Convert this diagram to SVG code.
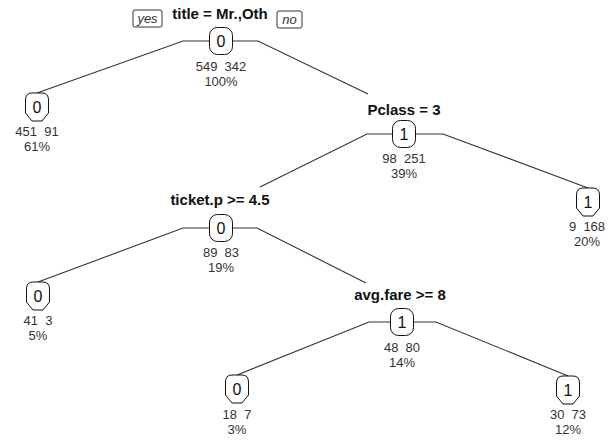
<svg xmlns="http://www.w3.org/2000/svg" xmlns:xlink="http://www.w3.org/1999/xlink" width="614" height="441" viewBox="0 0 614 441">
  <style>
    .edge { fill: none; stroke: #333; stroke-width: 1.1; }
    .box { fill: #fff; stroke: #111; stroke-width: 1; }
    .split { font-family: "Liberation Sans", Arial, sans-serif; font-size: 15px; font-weight: bold; fill: #111; text-anchor: middle; }
    .cls { font-family: "Liberation Sans", Arial, sans-serif; font-size: 16px; fill: #111; text-anchor: middle; }
    .info { font-family: "Liberation Sans", Arial, sans-serif; font-size: 13px; fill: #333; text-anchor: middle; white-space: pre; }
    .yn { font-family: "Liberation Sans", Arial, sans-serif; font-size: 13px; font-style: italic; fill: #333; text-anchor: middle; }
    .ynbox { fill: #fff; stroke: #333; stroke-width: 1; }
  </style>
  <defs>
    <!-- leaf outline: rounded top, chamfered bottom; origin at top centre -->
    <path id="leafShape" d="M-5,0 H5 Q11.5,0 11.5,7 V20 L5,28 H-5 L-11.5,20 V7 Q-11.5,0 -5,0 Z"/>
    <!-- split node outline; origin at centre -->
    <rect id="splitShape" x="-11.5" y="-13.5" width="23" height="27" rx="8" ry="8"/>
  </defs>
  <rect width="614" height="441" fill="#fff"/>

  <g id="connectors">
    <path class="edge" d="M209,41 H183 L37,93"/>
    <path class="edge" d="M232,41 H258 L368,94"/>
    <path class="edge" d="M393,134 H367 L260,187"/>
    <path class="edge" d="M416,134 H443 L588,188"/>
    <path class="edge" d="M210,228 H183 L38,282"/>
    <path class="edge" d="M232,228 H257 L366,283"/>
    <path class="edge" d="M391,322 H369 L237,375"/>
    <path class="edge" d="M413,322 H436 L568,376"/>
  </g>

  <g id="root">
    <rect class="ynbox" x="133" y="10" width="29" height="17" rx="2"/>
    <text class="yn" x="147.5" y="23">yes</text>
    <rect class="ynbox" x="277" y="11" width="25" height="17" rx="2"/>
    <text class="yn" x="289.5" y="24">no</text>
    <text class="split" x="220" y="19">title = Mr.,Oth</text>
    <use xlink:href="#splitShape" class="box" x="221" y="41"/>
    <text class="cls" x="221" y="47">0</text>
    <text class="info" x="221" y="71">549  342</text>
    <text class="info" x="221" y="86">100%</text>
  </g>

  <g id="leaf-title-yes">
    <use xlink:href="#leafShape" class="box" x="37" y="93"/>
    <text class="cls" x="37" y="113">0</text>
    <text class="info" x="37" y="136">451  91</text>
    <text class="info" x="37" y="151">61%</text>
  </g>

  <g id="node-pclass">
    <text class="split" x="404" y="115">Pclass = 3</text>
    <use xlink:href="#splitShape" class="box" x="404" y="134"/>
    <text class="cls" x="404" y="140">1</text>
    <text class="info" x="404" y="163">98  251</text>
    <text class="info" x="404" y="178">39%</text>
  </g>

  <g id="leaf-pclass-no">
    <use xlink:href="#leafShape" class="box" x="588" y="188"/>
    <text class="cls" x="588" y="208">1</text>
    <text class="info" x="587" y="231">9  168</text>
    <text class="info" x="587" y="246">20%</text>
  </g>

  <g id="node-ticket">
    <text class="split" x="220" y="205">ticket.p &gt;= 4.5</text>
    <use xlink:href="#splitShape" class="box" x="221" y="228"/>
    <text class="cls" x="221" y="234">0</text>
    <text class="info" x="221" y="257">89  83</text>
    <text class="info" x="221" y="272">19%</text>
  </g>

  <g id="leaf-ticket-yes">
    <use xlink:href="#leafShape" class="box" x="38" y="282"/>
    <text class="cls" x="38" y="302">0</text>
    <text class="info" x="38" y="325">41  3</text>
    <text class="info" x="38" y="340">5%</text>
  </g>

  <g id="node-avgfare">
    <text class="split" x="400" y="300">avg.fare &gt;= 8</text>
    <use xlink:href="#splitShape" class="box" x="402" y="322"/>
    <text class="cls" x="402" y="328">1</text>
    <text class="info" x="402" y="352">48  80</text>
    <text class="info" x="402" y="367">14%</text>
  </g>

  <g id="leaf-avgfare-yes">
    <use xlink:href="#leafShape" class="box" x="237" y="375"/>
    <text class="cls" x="237" y="395">0</text>
    <text class="info" x="237" y="419">18  7</text>
    <text class="info" x="237" y="434">3%</text>
  </g>

  <g id="leaf-avgfare-no">
    <use xlink:href="#leafShape" class="box" x="568" y="376"/>
    <text class="cls" x="568" y="396">1</text>
    <text class="info" x="568" y="419">30  73</text>
    <text class="info" x="568" y="434">12%</text>
  </g>
</svg>
